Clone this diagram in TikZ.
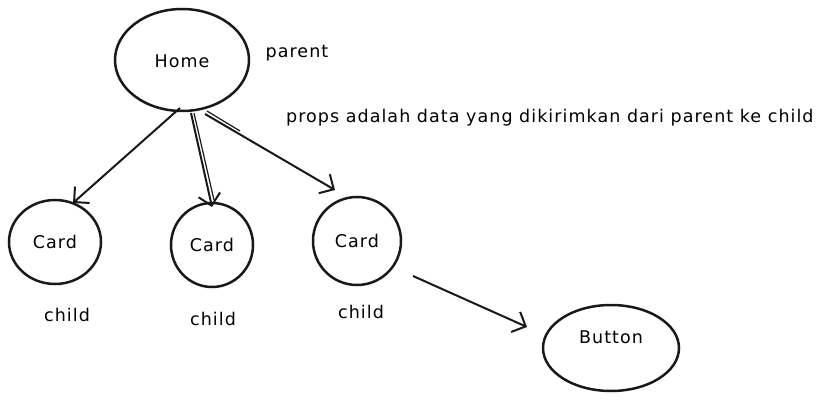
\documentclass[tikz,border=0pt]{standalone}
\usepackage{fontspec}
\setmainfont{DejaVu Sans}[LetterSpace=6]
\usetikzlibrary{arrows.meta}
\begin{document}
\begin{tikzpicture}[x=1pt,y=-1pt,
  shapeline/.style={draw=black!90,line width=2.5pt},
  lbl/.style={font=\fontsize{17.5}{21}\selectfont,inner sep=0pt},
  conn/.style={draw=black!90,line width=2pt,-{Straight Barb[length=11pt,width=22pt,line width=2pt]}}]
\useasboundingbox (0,0) rectangle (820,401);
\fill[white] (0,0) rectangle (820,401);
% shapes
\draw[shapeline] (182,60) ellipse [x radius=67,y radius=51];
\draw[shapeline] (55,242) ellipse [x radius=46,y radius=42];
\draw[shapeline] (212,245) ellipse [x radius=41,y radius=42];
\draw[shapeline] (357,241) ellipse [x radius=44,y radius=44];
\draw[shapeline] (611,348) ellipse [x radius=68,y radius=43];
% labels
\node[lbl] (home) at (182,61) {Home};
\node[lbl] (card1) at (55,242) {Card};
\node[lbl] (card2) at (212,245) {Card};
\node[lbl] (card3) at (357,241) {Card};
\node[lbl] (button) at (611,337) {Button};
\node[lbl] (parent) at (297,53) {parent};
\node[lbl,anchor=west] (props) at (286,118) {props adalah data yang dikirimkan dari parent ke child};
\node[lbl] (child1) at (67,315) {child};
\node[lbl] (child2) at (213,319) {child};
\node[lbl] (child3) at (361,312) {child};
% connector anchor points
\coordinate (h1) at (180,108);
\coordinate (h2) at (191,113);
\coordinate (h3) at (205,114);
\coordinate (c1) at (73,203);
\coordinate (c2) at (212,207);
\coordinate (c3) at (335,190);
\coordinate (c3b) at (413,276);
\coordinate (b1) at (527,327);
\coordinate (h2b) at (194,113);
\coordinate (c2b) at (214,200);
\coordinate (h3b) at (207,111);
\coordinate (m3b) at (240,131);
\draw[conn] (h1) -- (c1);
\draw[conn] (h2) -- (c2);
\draw[draw=black!90,line width=1.2pt] (h2b) -- (c2b);
\draw[conn] (h3) -- (c3);
\draw[draw=black!90,line width=1.2pt] (h3b) -- (m3b);
\draw[conn] (c3b) -- (b1);
\end{tikzpicture}
\end{document}
